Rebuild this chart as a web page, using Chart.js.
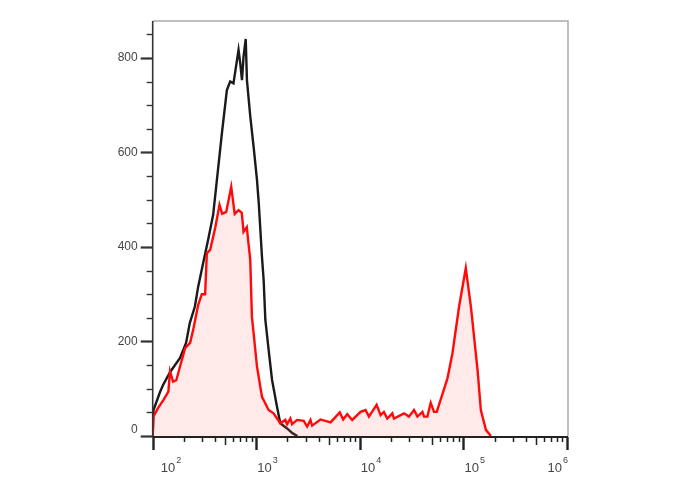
<!DOCTYPE html>
<html>
<head>
<meta charset="utf-8">
<script src="https://cdn.jsdelivr.net/npm/chart.js@4.4.1/dist/chart.umd.min.js"></script>
<style>
  html, body { margin: 0; padding: 0; background: #fff; }
  #wrap { width: 688px; height: 490px; }
</style>
</head>
<body>
<div id="wrap"><canvas id="histo"></canvas></div>
<script>
// Intensidad (eje X, escala log) y conteos de cada histograma
const redX = [100, 101.4, 112.5, 126.7, 141.7, 147, 157.3, 169, 205.4, 229.8, 245.6, 274.7, 298, 320.8, 333.3, 358.9, 401, 441.6, 469, 512.6, 573, 619.5, 674.5, 724.4, 753.8, 809.5, 875, 908, 942, 1016, 1135, 1316, 1469, 1706, 1909, 1983, 2133, 2216, 2478, 2871, 3097, 3336, 3462, 4167, 5208, 6401, 6906, 7551, 8439, 10160, 11355, 12227, 14520, 15860, 17070, 18410, 20590, 21340, 26680, 29800, 33340, 35970, 40200, 41690, 44900, 48330, 52030, 55250, 70120, 78370, 90800, 105400, 118000, 136900, 147300, 164800, 184100];
const redY = [0, 41, 59, 76, 94, 137, 115, 118, 186, 197, 224, 277, 300, 300, 387, 394, 440, 489, 470, 474, 527, 470, 478, 472, 432, 442, 372, 252, 218, 147, 83, 55, 48, 27, 34, 25, 37, 25, 34, 32, 20, 34, 22, 35, 29, 50, 35, 46, 34, 51, 55, 41, 66, 44, 51, 37, 48, 37, 48, 41, 55, 41, 51, 41, 41, 70, 51, 51, 122, 175, 274, 355, 274, 140, 55, 13, 0];

const blackX = [100, 101.8, 117.7, 125.9, 147, 183.5, 209.9, 228, 255.4, 274.9, 307, 342.9, 383.5, 416.8, 465.9, 520.3, 560, 602.4, 674, 700, 727.5, 754, 791, 812.6, 875, 942, 1016, 1058, 1135, 1178, 1223, 1316, 1419, 1585, 1706, 1983, 2233, 2495];
const blackY = [0, 55, 93, 108, 135, 165, 197, 239, 274, 316, 366, 415, 468, 542, 641, 732, 750, 746, 817, 789, 753, 803, 840, 753, 676, 612, 542, 491, 379, 330, 246, 182, 119, 62, 27, 16, 6, 0];

const yTickLabels = [0, 200, 400, 600, 800];
const xExponents = [2, 3, 4, 5, 6];

const toPoints = function(xs, ys){
	return xs.map(function(x, i){ return {x: x, y: ys[i]}; });
};

// Ejes dibujados a mano: marcas mayores/menores y etiquetas 10^n
const axisPlugin = {
	id: 'ejes',
	afterDraw: function(chart){
		const ctx = chart.ctx;
		const area = chart.chartArea;
		const xs = chart.scales.x;
		const ys = chart.scales.y;
		ctx.save();

		// marco superior y derecho
		ctx.strokeStyle = '#aaaaaa';
		ctx.lineWidth = 1.5;
		ctx.beginPath();
		ctx.moveTo(area.left, area.top);
		ctx.lineTo(area.right + 1, area.top);
		ctx.lineTo(area.right + 1, area.bottom);
		ctx.stroke();

		// eje Y
		ctx.strokeStyle = '#333';
		ctx.lineWidth = 1.6;
		ctx.beginPath();
		ctx.moveTo(area.left, area.top);
		ctx.lineTo(area.left, area.bottom + 1);
		ctx.stroke();
		for(let v = 0; v <= 850; v += 50){
			let py = Math.round(ys.getPixelForValue(v)) + 0.5;
			let len = (v % 200 == 0) ? 12 : 6;
			ctx.lineWidth = (v % 200 == 0) ? 2.2 : 1.4;
			ctx.beginPath();
			ctx.moveTo(area.left - len, py);
			ctx.lineTo(area.left, py);
			ctx.stroke();
		}
		ctx.fillStyle = '#444';
		ctx.font = '12px "Liberation Sans", Arial, sans-serif';
		ctx.textAlign = 'right';
		ctx.textBaseline = 'middle';
		yTickLabels.forEach(function(v){
			let py = ys.getPixelForValue(v);
			if(v == 0) py -= 6;
			ctx.fillText(String(v), area.left - 15, py);
		});

		// eje X
		ctx.strokeStyle = '#222';
		ctx.lineWidth = 1.8;
		ctx.beginPath();
		ctx.moveTo(area.left, area.bottom + 1);
		ctx.lineTo(area.right + 1, area.bottom + 1);
		ctx.stroke();
		for(let e = xExponents[0]; e <= xExponents[xExponents.length - 1]; e++){
			for(let m = 1; m <= 9; m++){
				if(e == xExponents[xExponents.length - 1] && m > 1) break;
				let px = Math.round(xs.getPixelForValue(m * Math.pow(10, e))) + 0.5;
				let len = m == 1 ? 13 : (m == 5 ? 8 : 5);
				ctx.lineWidth = m == 1 ? 2.4 : 1.5;
				ctx.beginPath();
				ctx.moveTo(px, area.bottom + 1);
				ctx.lineTo(px, area.bottom + 1 + len);
				ctx.stroke();
			}
		}
		ctx.fillStyle = '#444';
		ctx.textBaseline = 'alphabetic';
		ctx.textAlign = 'left';
		xExponents.forEach(function(e){
			let px = xs.getPixelForValue(Math.pow(10, e)) + 1;
			ctx.font = '13px "Liberation Sans", Arial, sans-serif';
			let wBase = ctx.measureText('10').width;
			ctx.font = '9px "Liberation Sans", Arial, sans-serif';
			let wSup = ctx.measureText(String(e)).width;
			if(px < area.left + 8) px = area.left + 8;
			if(px + wBase + wSup + 1 > area.right + 1) px = area.right + 1 - wBase - wSup - 1;
			ctx.font = '13px "Liberation Sans", Arial, sans-serif';
			ctx.fillText('10', px, area.bottom + 36);
			ctx.font = '9px "Liberation Sans", Arial, sans-serif';
			ctx.fillText(String(e), px + wBase + 1, area.bottom + 27);
		});
		ctx.restore();
	}
};

const histoChart = new Chart(document.getElementById('histo').getContext('2d'), {
	type: 'line',
	data: {
		datasets: [
			{
				label: 'muestra',
				data: toPoints(redX, redY),
				borderColor: '#ff0a0a',
				backgroundColor: 'rgba(255, 120, 120, 0.16)',
				borderWidth: 2.4,
				fill: 'origin',
				pointRadius: 0,
				tension: 0
			},
			{
				label: 'control',
				data: toPoints(blackX, blackY),
				borderColor: '#1a1a1a',
				borderWidth: 2.4,
				fill: false,
				pointRadius: 0,
				tension: 0
			}
		]
	},
	options: {
		responsive: true,
		maintainAspectRatio: false,
		animation: false,
		events: [],
		layout: { padding: { left: 0, right: 121, top: 21, bottom: 0 } },
		plugins: {
			legend: { display: false },
			tooltip: { enabled: false }
		},
		scales: {
			x: {
				type: 'logarithmic',
				min: 100,
				max: 1000000,
				grid: { display: false },
				border: { display: false },
				ticks: { display: false },
				afterFit: function(scale){ scale.height = 54; }
			},
			y: {
				min: 0,
				max: 878,
				grid: { display: false },
				border: { display: false },
				ticks: { display: false },
				afterFit: function(scale){ scale.width = 152.7; }
			}
		}
	},
	plugins: [axisPlugin]
});
</script>
</body>
</html>
